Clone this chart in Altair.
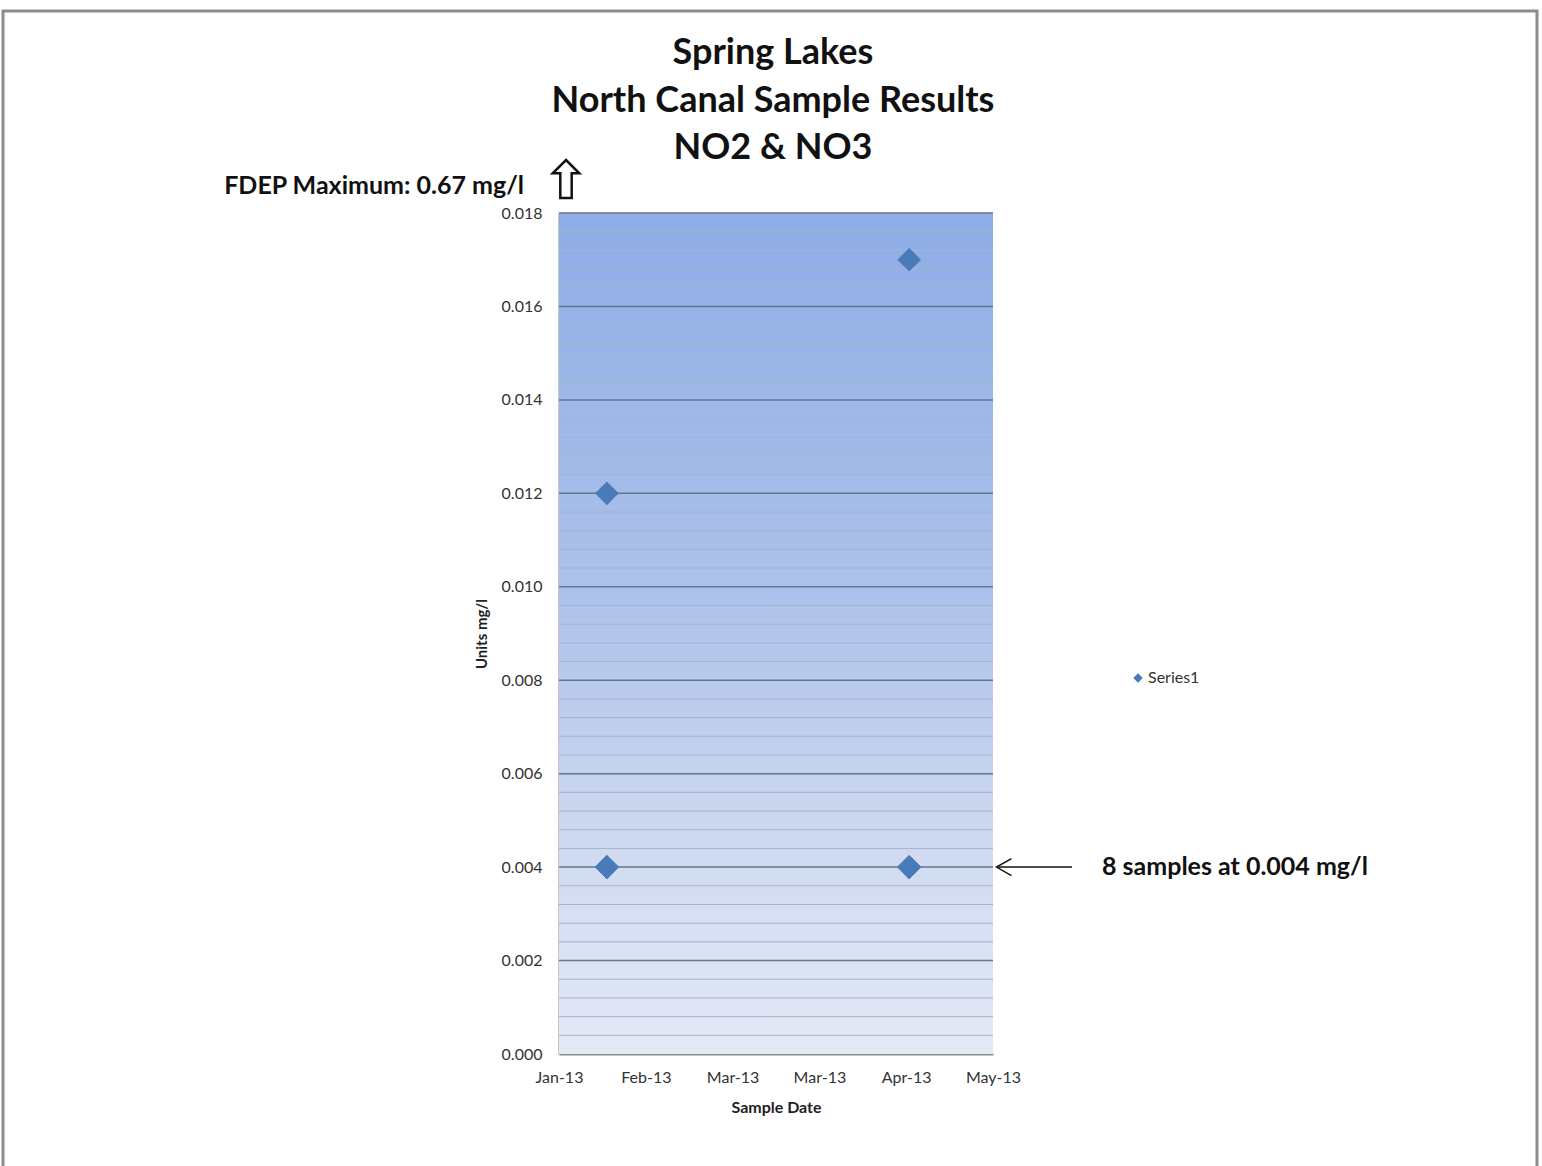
import altair as alt
import pandas as pd

# ---- chart content -------------------------------------------------------
title_lines = ["Spring Lakes", "North Canal Sample Results", "NO2 & NO3"]

sample_dates = [
    "2013-01-19", "2013-01-19", "2013-01-19", "2013-01-19", "2013-01-19",
    "2013-04-30", "2013-04-30", "2013-04-30", "2013-04-30", "2013-04-30",
]
no2_no3_mg_l = [0.012, 0.004, 0.004, 0.004, 0.004,
                0.017, 0.004, 0.004, 0.004, 0.004]
series_name = "Series1"

x_tick_dates = [(2013, 1, 3), (2013, 2, 1), (2013, 3, 2),
                (2013, 3, 31), (2013, 4, 29), (2013, 5, 28)]
y_major = [0.000, 0.002, 0.004, 0.006, 0.008, 0.010,
           0.012, 0.014, 0.016, 0.018]
y_minor = [round(i * 0.0004, 4) for i in range(46) if i % 5]

fdep_note = "FDEP Maximum: 0.67 mg/l"
low_note = "8 samples at 0.004 mg/l"
low_value = 0.004

# ---- geometry ------------------------------------------------------------
W, H = 434, 841
PAD = {"left": 559, "top": 213, "right": 1542 - 559 - W, "bottom": 1166 - 213 - H}
FONT = "Lato"


def dt(y, m, d):
    return alt.DateTime(year=y, month=m, date=d, utc=True)


x_scale = alt.Scale(type="utc", domain=[dt(*x_tick_dates[0]), dt(*x_tick_dates[-1])])
y_scale = alt.Scale(domain=[0, 0.018], nice=False, zero=True)

x_axis = alt.Axis(
    values=[dt(*d) for d in x_tick_dates], format="%b-%y", title="Sample Date",
    grid=False, ticks=False, domainColor="#8c8c8c", domainWidth=2,
    labelFont=FONT, labelFontSize=16, labelColor="#333333", labelPadding=15,
    titleFont=FONT, titleFontSize=16, titleFontWeight="bold", titleColor="#222222",
    titlePadding=14, labelFlush=False,
)
y_axis = alt.Axis(
    values=y_major, format=".3f", title="Units mg/l",
    grid=False, ticks=False, domainColor="#8c8c8c", domainWidth=2,
    labelFont=FONT, labelFontSize=16, labelColor="#333333", labelPadding=17,
    titleFont=FONT, titleFontSize=15, titleFontWeight="bold", titleColor="#222222",
    titlePadding=12,
)


def X(field):
    return alt.X(field, scale=x_scale, axis=x_axis)


def Y(field=None, datum=None):
    if datum is not None:
        return alt.Y(datum=datum, type="quantitative", scale=y_scale, axis=y_axis)
    return alt.Y(field, scale=y_scale, axis=y_axis)


# gradient-filled plot area
bg_df = pd.DataFrame({"x0": ["2013-01-03"], "x1": ["2013-05-28"],
                      "y0": [0.0], "y1": [0.018]})
background = alt.Chart(bg_df).mark_rect(
    fill=alt.Gradient(
        gradient="linear",
        stops=[
            alt.GradientStop(color="#8eade6", offset=0),
            alt.GradientStop(color="#acc1ea", offset=0.45),
            alt.GradientStop(color="#cfdaf1", offset=0.75),
            alt.GradientStop(color="#e4e9f6", offset=1),
        ],
        x1=0, x2=0, y1=0, y2=1,
    )
).encode(x=X("x0:T"), x2="x1:T", y=Y("y0:Q"), y2="y1:Q")

minor_grid = alt.Chart(pd.DataFrame({"v": y_minor})).mark_rule(
    stroke="#a7b3c8", strokeWidth=1
).encode(y=Y("v:Q"), x=alt.value(0), x2=alt.value(W))

major_grid = alt.Chart(pd.DataFrame({"v": y_major[1:]})).mark_rule(
    stroke="#66758c", strokeWidth=1.5
).encode(y=Y("v:Q"), x=alt.value(0), x2=alt.value(W))

points_df = pd.DataFrame({"date": sample_dates, "value": no2_no3_mg_l,
                          "series": [series_name] * len(sample_dates)})
points = alt.Chart(points_df).mark_point(
    shape="diamond", filled=True, size=560, opacity=1
).encode(
    x=X("date:T"),
    y=Y("value:Q"),
    color=alt.Color(
        "series:N",
        scale=alt.Scale(range=["#4a7bb9"]),
        legend=alt.Legend(
            title=None, orient="none", legendX=571, legendY=457,
            symbolType="diamond", symbolSize=90,
            symbolStrokeWidth=0, labelFont=FONT, labelFontSize=16,
            labelColor="#333333", labelOffset=2, padding=0,
        ),
    ),
)

# ---- annotations ---------------------------------------------------------
one = pd.DataFrame({"k": [0]})

title_text = alt.Chart(one).mark_text(
    text=title_lines, font=FONT, fontSize=36, fontWeight="bold",
    lineHeight=47.5, align="center", baseline="middle", color="#111111",
).encode(x=alt.value(214), y=alt.value(-160))

fdep_text = alt.Chart(one).mark_text(
    text=fdep_note, font=FONT, fontSize=25, fontWeight="bold",
    align="right", baseline="middle", color="#111111",
).encode(x=alt.value(-35), y=alt.value(-27))

up_arrow = alt.Chart(one).mark_point(
    shape="M 0 -1 L 0.7 -0.3 L 0.3 -0.3 L 0.3 1 L -0.3 1 L -0.3 -0.3 L -0.7 -0.3 Z",
    filled=False, size=1444, stroke="#111111", strokeWidth=2.5, opacity=1,
).encode(x=alt.value(7), y=alt.value(-34))

low_text = alt.Chart(one).mark_text(
    text=low_note, font=FONT, fontSize=25, fontWeight="bold",
    align="left", baseline="middle", color="#111111",
).encode(x=alt.value(543), y=Y(datum=low_value))

low_shaft = alt.Chart(one).mark_rule(stroke="#111111", strokeWidth=1.5).encode(
    x=alt.value(438), x2=alt.value(513), y=Y(datum=low_value),
)

low_head = alt.Chart(one).mark_point(
    shape="M 0.88 -1 L -0.88 0 L 0.88 1", filled=False, size=289,
    stroke="#111111", strokeWidth=1.5, opacity=1,
).encode(x=alt.value(445), y=Y(datum=low_value))

frame = alt.Chart(one).mark_rect(
    filled=False, stroke="#8c8c8c", strokeWidth=3,
).encode(x=alt.value(-556), x2=alt.value(978), y=alt.value(-202), y2=alt.value(960))

chart = alt.layer(
    background, minor_grid, major_grid, points,
    title_text, fdep_text, up_arrow, low_text, low_shaft, low_head, frame,
).properties(
    width=W, height=H,
    autosize=alt.AutoSizeParams(type="none"),
    padding=PAD,
    background="#ffffff",
).configure_view(strokeWidth=0)

chart.save("out.html", embed_options={"renderer": "svg", "actions": False})
